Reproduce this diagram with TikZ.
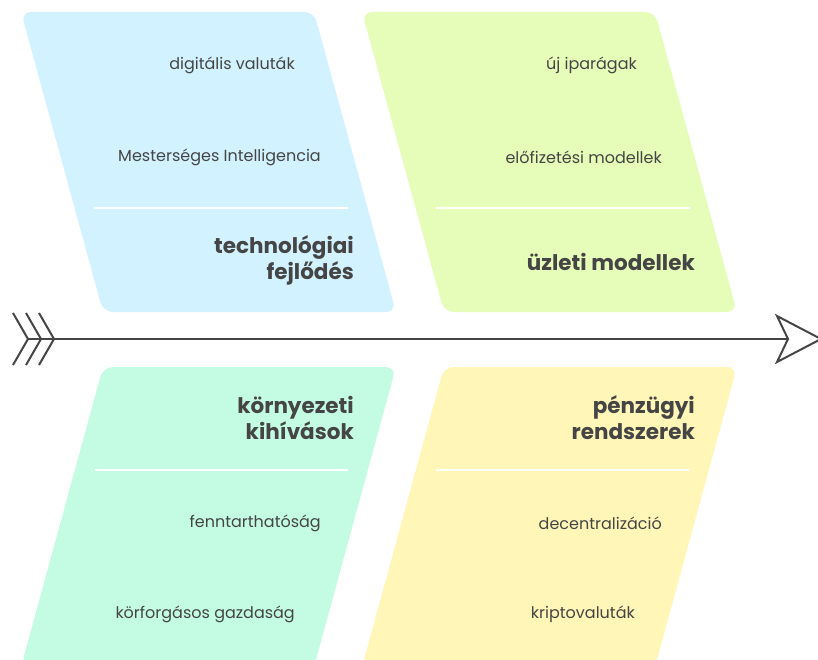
\documentclass[tikz,border=0pt]{standalone}
\usepackage{fontspec}
\setmainfont{Poppins}
\usetikzlibrary{positioning, calc}

\definecolor{inkgray}{HTML}{454545}
\definecolor{techblue}{HTML}{D1F2FE}
\definecolor{bizgreen}{HTML}{E6FCB9}
\definecolor{envmint}{HTML}{C4FCE3}
\definecolor{finyellow}{HTML}{FFF6B8}

\tikzset{
  bone/.style={rounded corners=10pt, draw=none},
  item/.style={anchor=east, inner sep=0pt, text=inkgray, font=\fontsize{16}{19}\selectfont},
  title/.style={anchor=east, inner sep=0pt, align=right, text=inkgray, font=\fontsize{21.5}{26}\selectfont\bfseries},
  sep/.style={white, line width=1.6pt},
  spine/.style={inkgray, line width=2pt}
}

\begin{document}
\begin{tikzpicture}[x=1pt, y=-1pt]

  \useasboundingbox (0,0) rectangle (818,660);
  \clip (0,0) rectangle (818,660);

  \def\bonew{293} % bone width
  \def\bones{82}  % slant

  \coordinate (TL) at (21,12);
  \coordinate (TR) at (362,12);
  \coordinate (BL) at (103,367);
  \coordinate (BR) at (444,367);

  %% top bones
  \fill[bone, techblue] (TL) -- ++(\bonew,0) -- ++(\bones,300) -- ++(-\bonew,0) -- cycle;
  \fill[bone, bizgreen] (TR) -- ++(\bonew,0) -- ++(\bones,300) -- ++(-\bonew,0) -- cycle;

  %% bottom bones
  \fill[bone, envmint] (BL) -- ++(\bonew,0) -- ++(-\bones,300) -- ++(-\bonew,0) -- cycle;
  \fill[bone, finyellow] (BR) -- ++(\bonew,0) -- ++(-\bones,300) -- ++(-\bonew,0) -- cycle;

  %% separators
  \draw[sep] ($(TL) + (73,196)$) -- ($(TL) + (327,196)$);
  \draw[sep] ($(TR) + (74,196)$) -- ($(TR) + (328,196)$);
  \draw[sep] ($(BL) + (-8,103)$) -- ($(BL) + (245,103)$);
  \draw[sep] ($(BR) + (-8,103)$) -- ($(BR) + (245,103)$);

  %% spine
  \coordinate (tail) at (28,339);
  \coordinate (notch) at (788,339);
  \draw[spine] (tail) -- (notch);
  \foreach \i in {0,13,26}
  {
    \draw[spine] ($(tail) + (\i-15,-26)$) -- ($(tail) + (\i,0)$) -- ($(tail) + (\i-15,26)$);
  }
  \draw[spine, line join=miter] (notch) -- ++(-11,-23) -- ++(44,23) -- ++(-44,23) -- cycle;

  %%% texts
  %% technology
  \node[item] (digi) at (295,65) {digitális valuták};
  \node[item] (mi) at (321,157) {Mesterséges Intelligencia};
  \node[title] (tech) at (354,260) {technológiai\\fejlődés};

  %% business
  \node[item] (ipar) at (637,65) {új iparágak};
  \node[item] (elofiz) at (662,157) {előfizetési modellek};
  \node[title] (uzlet) at (695,262) {üzleti modellek};

  %% environment
  \node[title] (korny) at (354,418) {környezeti\\kihívások};
  \node[item] (fennt) at (321,523) {fenntarthatóság};
  \node[item] (korf) at (295,614) {körforgásos gazdaság};

  %% finance
  \node[title] (penz) at (695,418) {pénzügyi\\rendszerek};
  \node[item] (decent) at (662,523) {decentralizáció};
  \node[item] (kripto) at (635,614) {kriptovaluták};

\end{tikzpicture}
\end{document}
